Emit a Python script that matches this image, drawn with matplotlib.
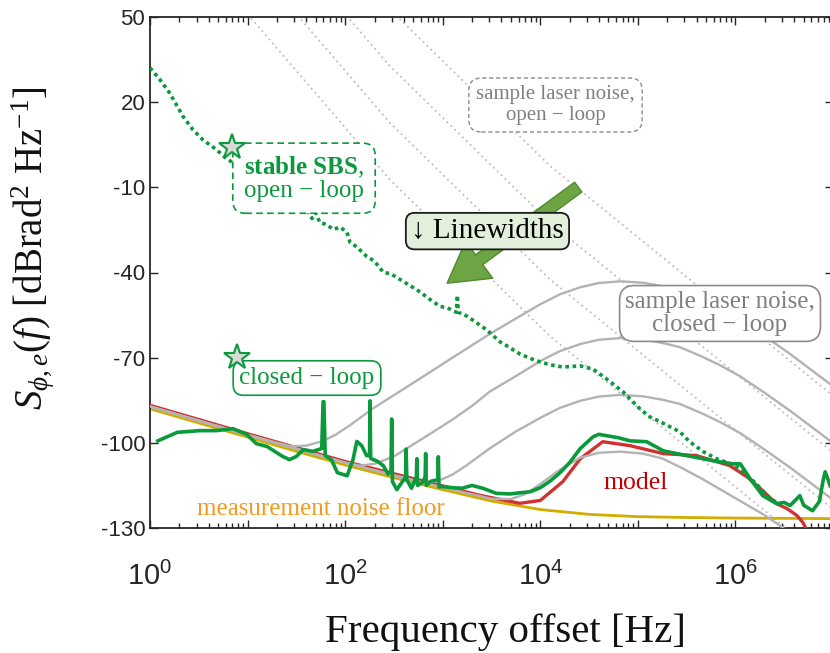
import numpy as np
import matplotlib
matplotlib.use("Agg")
import matplotlib.pyplot as plt
from matplotlib.ticker import FuncFormatter, LogLocator, NullFormatter

plt.rcParams['font.family'] = ['Liberation Sans', 'DejaVu Sans']
plt.rcParams['axes.unicode_minus'] = False
plt.rcParams['mathtext.fontset'] = 'custom'
plt.rcParams['mathtext.rm'] = 'Liberation Serif'
plt.rcParams['mathtext.it'] = 'Liberation Serif:italic'
plt.rcParams['mathtext.bf'] = 'Liberation Serif:bold'

SERIF = ['Liberation Serif', 'DejaVu Serif']

# ---- data: log10(frequency / Hz) and phase noise in dBrad^2/Hz ----
# measurement noise floor
floor_lf = [0, 0.5, 1, 1.5, 2, 2.5, 3, 3.5, 4, 4.5, 5, 5.5, 6, 6.5, 7]
floor_db = [-88, -93, -98, -103, -107.8, -112.3, -116.5, -120.5, -123.5,
            -125.2, -126.0, -126.3, -126.5, -126.6, -126.7]

# loop model
model_lf = [0, 1, 2, 3, 3.38, 3.79, 4.0, 4.23, 4.41, 4.64, 4.92, 5.26, 5.6,
            5.94, 6.12, 6.22, 6.42, 6.53, 6.63, 6.69, 6.75]
model_db = [-86.8, -96.8, -106.6, -115.2, -118.5, -121.3, -120.3, -113.7,
            -105.6, -99.6, -101.0, -103.8, -104.5, -108.0, -112.0, -115.0,
            -121.4, -123.2, -125.6, -128.0, -132.0]

# sample laser noise, open loop (four linewidths)
ol_lf = [1.0, 2.459, 4.098, 6.486, 7.0]
ol_db = [
    [51, -7.3, -62.4, -129.1, -143.4],
    [71, 12.7, -42.4, -109.1, -123.4],
    [91, 32.7, -22.4, -89.1, -103.4],
    [111, 52.7, -2.4, -69.1, -83.4],
]

# sample laser noise, closed loop (same four linewidths)
cl1_lf = [0, 1, 2, 3, 3.5, 3.7, 3.85, 4.0, 4.2, 4.41, 4.6, 4.82, 5.05, 5.25,
          5.43, 5.65, 5.85, 6.05, 6.3, 6.45, 6.6]
cl1_db = [-87.2, -97.2, -107, -115.7, -119.7, -119.8, -118, -114.5, -109.5,
          -105.2, -103.5, -103.1, -103.8, -105.5, -108.5, -112.5, -116.5,
          -120.5, -125.5, -129, -133]
cl2_lf = [0, 1, 2, 2.5, 2.65, 2.8, 2.95, 3.1, 3.25, 3.48, 3.75, 4.0, 4.2, 4.41,
          4.6, 4.82, 5.05, 5.25, 5.43, 5.65, 5.85, 6.05, 6.3, 6.56, 6.75, 6.97]
cl2_db = [-87.2, -97.2, -107, -111.5, -113.3, -114, -113.5, -111.2, -107.8,
          -102, -96, -91.2, -87.7, -85.2, -83.7, -83.1, -83.6, -84.8, -86.3,
          -89.5, -92.8, -96.6, -102.4, -108.7, -113.6, -119.3]
cl3_lf = [0, 1, 2.0, 2.15, 2.3, 2.5, 2.7, 2.9, 3.1, 3.3, 3.48, 3.75, 4.0, 4.2,
          4.41, 4.6, 4.82, 5.05, 5.25, 5.43, 5.65, 5.85, 6.05, 6.3, 6.56, 6.75,
          6.97]
cl3_db = [-87.2, -97.2, -107, -108, -107.4, -104.8, -100.5, -96.2, -91.8, -87,
          -82, -76.5, -71.2, -67.7, -65.2, -63.7, -63.1, -63.6, -64.8, -66.3,
          -69.5, -72.8, -76.6, -82.4, -88.7, -93.6, -99.3]
cl4_lf = [0, 1, 1.3, 1.45, 1.6, 1.76, 1.9, 2.05, 2.28, 2.5, 2.77, 3.1, 3.48,
          3.75, 4.0, 4.2, 4.41, 4.6, 4.82, 5.05, 5.25, 5.43, 5.65, 5.85, 6.05,
          6.3, 6.56, 6.75, 6.97]
cl4_db = [-87.2, -97.2, -100, -101.2, -101, -99.5, -97.2, -93.8, -88, -83.2,
          -77.3, -70, -61.7, -56.2, -51.2, -47.7, -45.2, -43.7, -43.1, -43.6,
          -44.8, -46.3, -49.5, -52.8, -56.6, -62.4, -68.7, -73.6, -79.3]

# stable SBS laser, open loop
sbs_ol_lf = [0, 0.1, 0.2, 0.34, 0.44, 0.54, 0.68, 0.77, 0.9, 1.1, 1.3, 1.45,
             1.57, 1.61, 1.66, 1.7, 1.74, 1.8, 1.88, 1.95, 2.02, 2.05, 2.12,
             2.22, 2.3, 2.39, 2.47, 2.56, 2.66, 2.77, 2.87, 2.97, 3.05, 3.14,
             3.15, 3.16, 3.25, 3.38, 3.45, 3.59, 3.66, 3.79, 3.9, 4.0, 4.1,
             4.23, 4.41, 4.54, 4.68, 4.85, 5.02, 5.12, 5.23, 5.43, 5.53, 5.67,
             5.8, 6.0, 6.2, 6.35, 6.45]
sbs_ol_db = [32.1, 28, 23.3, 14.9, 10.3, 6.8, 3.3, 0.5, -2.5, -7, -11, -15,
             -17.8, -18, -21, -19, -22.4, -23, -24.8, -24, -25.9, -29.4, -31,
             -34.3, -36, -39.9, -40.5, -42.4, -44.5, -46.9, -49.5, -51.9, -52.5,
             -54, -48, -54, -55.4, -58.5, -60.2, -64.5, -65.9, -68.7, -70.3,
             -71.5, -72.5, -73.3, -72.9, -74, -77.5, -82.1, -88, -90.8, -92.6,
             -96.1, -99.6, -103.1, -105.5, -108, -114, -119.5, -121.5]

# stable SBS laser, closed loop
sbs_cl_lf = [0.08, 0.28, 0.51, 0.68, 0.85, 0.99, 1.09, 1.2, 1.36, 1.43, 1.5,
             1.57, 1.67, 1.76, 1.774, 1.782, 1.796, 1.86, 1.92, 2.02, 2.08,
             2.12, 2.17, 2.22, 2.25, 2.255, 2.262, 2.33, 2.39, 2.44, 2.47,
             2.477, 2.485, 2.53, 2.58, 2.62, 2.625, 2.632, 2.68, 2.73, 2.735,
             2.742, 2.79, 2.82, 2.825, 2.832, 2.88, 2.95, 2.955, 2.962, 3.0,
             3.1, 3.2, 3.3, 3.41, 3.55, 3.69, 3.79, 3.9, 4.0, 4.1, 4.2, 4.3,
             4.41, 4.54, 4.6, 4.68, 4.8, 4.92, 5.09, 5.26, 5.4, 5.5, 5.65,
             5.77, 5.97, 6.05, 6.15, 6.28, 6.42, 6.5, 6.56, 6.62, 6.66, 6.7,
             6.79, 6.86, 6.9, 6.92, 6.95, 6.97]
sbs_cl_db = [-99.3, -96.3, -95.7, -95.7, -95.0, -97.0, -100.3, -101.3, -104.8,
             -105.9, -104.8, -102.4, -103.0, -102.0, -85.5, -85.5, -104.5,
             -106.0, -110.5, -111.6, -106.0, -99.5, -101.0, -104.5, -104.5,
             -85.2, -105.5, -106.5, -108.0, -111.0, -110.0, -91.6, -113.7,
             -116.5, -114.0, -112.0, -102.2, -113.0, -116.0, -112.0, -105.6,
             -115.0, -114.0, -112.0, -103.8, -115.0, -113.5, -113.0, -104.9,
             -115.5, -115.4, -115.8, -116.0, -115.0, -116.0, -117.8, -118.0,
             -117.6, -117.2, -115.8, -113.5, -110.6, -107.0, -102.0, -97.9,
             -97.0, -97.5, -98.2, -99.3, -99.6, -102.8, -103.8, -104.5, -105.5,
             -106.3, -107.4, -107.4, -112.6, -118.6, -121.4, -121.0, -122.1,
             -120.0, -118.6, -122.0, -123.9, -120.7, -113.0, -110.2, -113.0,
             -115.1]

yticks = [50, 20, -10, -40, -70, -100, -130]

# ---- colours ----
green = '#0A9A3C'
gray = '#B3B3B3'
floor_col = '#D2AC00'
model_col = '#D03232'


def hz(lf):
    return 10.0 ** np.asarray(lf)


fig = plt.figure(figsize=(8.3, 6.53), dpi=100)
ax = fig.add_axes([150 / 830, 1 - 528 / 653, 683 / 830, 511 / 653])

for db in ol_db:
    ax.plot(hz(ol_lf), db, color='#BDBDBD', lw=1.3, ls=(0, (1, 2)), zorder=1)

ax.plot(hz(floor_lf), floor_db, color=floor_col, lw=2.0, zorder=2)
ax.plot(hz(model_lf), model_db, color=model_col, lw=2.4, zorder=3)
for lf, db in [(cl1_lf, cl1_db), (cl2_lf, cl2_db), (cl3_lf, cl3_db), (cl4_lf, cl4_db)]:
    ax.plot(hz(lf), db, color=gray, lw=1.7, zorder=4)

ax.plot(hz(sbs_cl_lf), sbs_cl_db, color=green, lw=2.6, zorder=5,
        solid_joinstyle='round')
ax.plot(hz(sbs_ol_lf), sbs_ol_db, color=green, lw=2.6, ls=(0, (1, 1)),
        dash_capstyle='butt', zorder=5)

ax.set_xscale('log')
ax.set_xlim(1, 1e7)
ax.set_ylim(-130, 50)
ax.set_yticks(yticks)
ax.set_yticklabels([str(v) for v in yticks])

ax.xaxis.set_major_locator(LogLocator(base=10, numticks=20))
ax.xaxis.set_minor_locator(LogLocator(base=10, subs=np.arange(2, 10), numticks=100))
ax.xaxis.set_minor_formatter(NullFormatter())


def dec_fmt(v, pos):
    e = int(round(np.log10(v)))
    return r'$\mathdefault{10^{%d}}$' % e if e % 2 == 0 else ''


ax.xaxis.set_major_formatter(FuncFormatter(dec_fmt))
ax.tick_params(which='both', direction='in', top=True, right=True,
               colors='#262626', width=1.0)
ax.tick_params(axis='y', labelsize=16)
ax.tick_params(axis='x', labelsize=21, pad=24)
ax.tick_params(which='major', length=6)
ax.tick_params(which='minor', length=3.5)
for sp in ax.spines.values():
    sp.set_linewidth(1.3)
    sp.set_color('#262626')

fig.text(505 / 830, 1 - 632 / 653, 'Frequency offset [Hz]', family=SERIF,
         fontsize=29.5, ha='center', va='center', color='#111111')
fig.text(33 / 830, 1 - 248 / 653,
         r'$S_{\phi,e}(f)$ [dBrad$^{2}$ Hz$^{-1}$]', family=SERIF,
         fontsize=28, ha='center', va='center', rotation=90, color='#111111')

# ---- annotations ----
ax.text(0.5937, 0.8278, 'sample laser noise,\nopen \u2212 loop', transform=ax.transAxes,
        family=SERIF, fontsize=15, color='#808080', ha='center', va='center',
        multialignment='center', zorder=8, linespacing=1.1,
        bbox=dict(boxstyle='round,pad=0.35,rounding_size=0.6', fc='white',
                  ec='#8C8C8C', ls=(0, (3, 2)), lw=1.0))

ax.text(0.8346, 0.4198, 'sample laser noise,\nclosed \u2212 loop', transform=ax.transAxes,
        family=SERIF, fontsize=18, color='#7F7F7F', ha='center', va='center',
        multialignment='center', zorder=8, linespacing=1.05,
        bbox=dict(boxstyle='round,pad=0.22,rounding_size=0.6', fc='white',
                  ec='#8C8C8C', lw=1.2))

ax.text(0.2255, 0.684, r'$\mathbf{stable\ SBS}$,' + '\nopen \u2212 loop',
        transform=ax.transAxes, family=SERIF, fontsize=18, color=green,
        ha='center', va='center', multialignment='left', zorder=8,
        linespacing=1.0,
        bbox=dict(boxstyle='round,pad=0.45,rounding_size=0.5', fc='white',
                  ec=green, ls=(0, (4, 2.5)), lw=1.2))

ax.text(0.2299, 0.2935, 'closed \u2212 loop', transform=ax.transAxes,
        family=SERIF, fontsize=18, color=green, ha='center', va='center',
        zorder=8,
        bbox=dict(boxstyle='round,pad=0.25,rounding_size=0.4', fc='white',
                  ec=green, lw=1.2))

ax.annotate('', xy=(0.435, 0.479), xytext=(0.627, 0.667),
            xycoords='axes fraction', textcoords='axes fraction', zorder=7,
            arrowprops=dict(arrowstyle='simple,head_length=1.3,head_width=1.5,tail_width=0.4',
                            fc='#6DA544', ec='#4F8A2E', lw=1.0, mutation_scale=22,
                            shrinkA=0, shrinkB=0))
ax.text(0.4941, 0.581, '\u2193 Linewidths', transform=ax.transAxes,
        family=SERIF, fontsize=21, color='black', ha='center', va='center',
        zorder=9,
        bbox=dict(boxstyle='round,pad=0.18,rounding_size=0.3', fc='#E2EFDA',
                  ec='#1A1A1A', lw=1.3))

ax.text(0.7116, 0.088, 'model', transform=ax.transAxes, family=SERIF,
        fontsize=18.5, color='#C00000', ha='center', va='center', zorder=8)
ax.text(0.25, 0.037, 'measurement noise floor', transform=ax.transAxes,
        family=SERIF, fontsize=18, color='#F39A1E', ha='center', va='center',
        zorder=8)

for sx, sy in [(0.12, 0.7456), (0.1274, 0.3346)]:
    ax.plot([sx], [sy], marker='*', ms=19, mfc='#D9D9D9', mec=green, mew=1.5,
            transform=ax.transAxes, zorder=10, clip_on=False)

fig.savefig('out.png', dpi=100)
